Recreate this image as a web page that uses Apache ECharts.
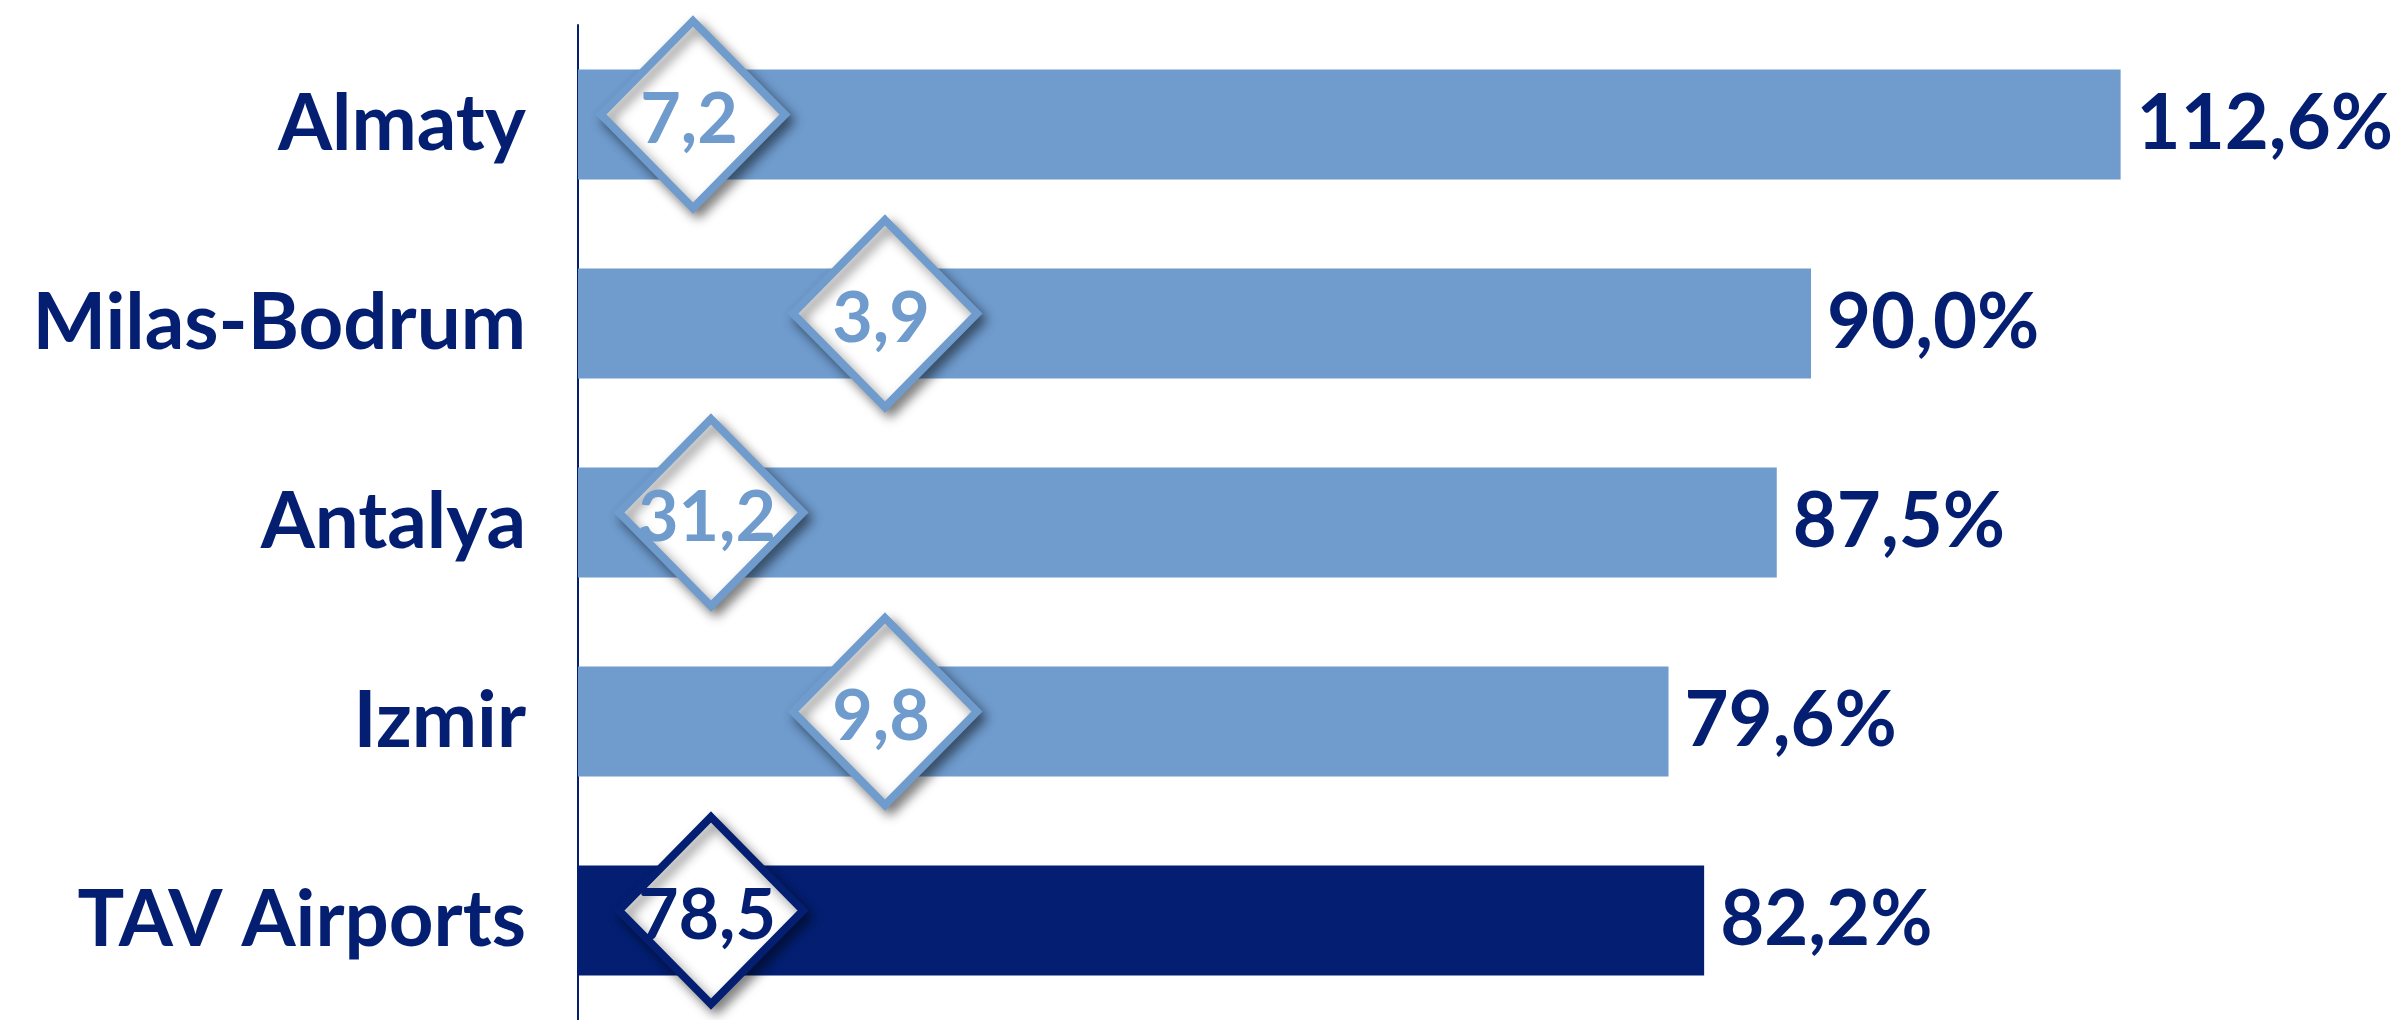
<!DOCTYPE html>
<html>
<head>
<meta charset="utf-8">
<script src="https://cdn.jsdelivr.net/npm/echarts@6/dist/echarts.min.js"></script>
<style>
html,body{margin:0;padding:0;background:#fff;}
#chart{width:2403px;height:1020px;}
</style>
</head>
<body>
<div id="chart"></div>
<script>
// ---- data ----
const categories = ['Almaty', 'Milas-Bodrum', 'Antalya', 'Izmir', 'TAV Airports'];
const loadFactor = [112.6, 90.0, 87.5, 79.6, 82.2];      // bar values, %
const diamondValues = [7.2, 3.9, 31.2, 9.8, 78.5];      // values shown in diamonds

// ---- styles ----
const NAVY = '#041f72';
const LIGHT = '#6f9bcd';
const FONT = 'Lato';
const fmt = v => v.toFixed(1).replace('.', ',');
const isTotal = i => i === categories.length - 1;

const chart = echarts.init(document.getElementById('chart'));
chart.setOption({
  backgroundColor: '#ffffff',
  animation: false,
  grid: { left: 578, right: 181, top: 25, bottom: -2, containLabel: false },
  xAxis: {
    type: 'value', min: 0, max: 120,
    show: false
  },
  yAxis: {
    type: 'category',
    data: categories,
    inverse: true,
    axisLine: { show: true, lineStyle: { color: NAVY, width: 2 } },
    axisTick: { show: false },
    axisLabel: {
      margin: 52,
      color: NAVY,
      fontFamily: FONT,
      fontWeight: 'bold',
      fontSize: 78
    }
  },
  series: [
    {
      type: 'bar',
      data: loadFactor.map((v, i) => ({
        value: v,
        itemStyle: { color: isTotal(i) ? NAVY : LIGHT }
      })),
      barWidth: 110,
      label: {
        show: true,
        position: 'right',
        distance: 16,
        color: NAVY,
        fontFamily: FONT,
        fontWeight: 'bold',
        fontSize: 76,
        formatter: p => fmt(p.value) + '%'
      },
      z: 2
    },
    {
      type: 'scatter',
      clip: false,
      z: 5,
      symbol: 'diamond',
      symbolSize: [184, 187],
      data: diamondValues.map((v, i) => ({
        value: [0, i],
        symbolOffset: [i === 0 ? 115 : (i % 2 ? 307 : 133), -10],
        itemStyle: {
          opacity: 1,
          color: '#ffffff',
          borderColor: isTotal(i) ? NAVY : LIGHT,
          borderWidth: 8,
          shadowBlur: 12,
          shadowOffsetX: 5,
          shadowOffsetY: 6,
          shadowColor: 'rgba(0,0,0,0.45)'
        },
        label: {
          show: true,
          position: 'inside',
          offset: [-4, 6],
          formatter: fmt(v),
          color: isTotal(i) ? NAVY : LIGHT,
          fontFamily: FONT,
          fontWeight: 'bold',
          fontSize: 70
        }
      }))
    }
  ]
});
</script>
</body>
</html>
